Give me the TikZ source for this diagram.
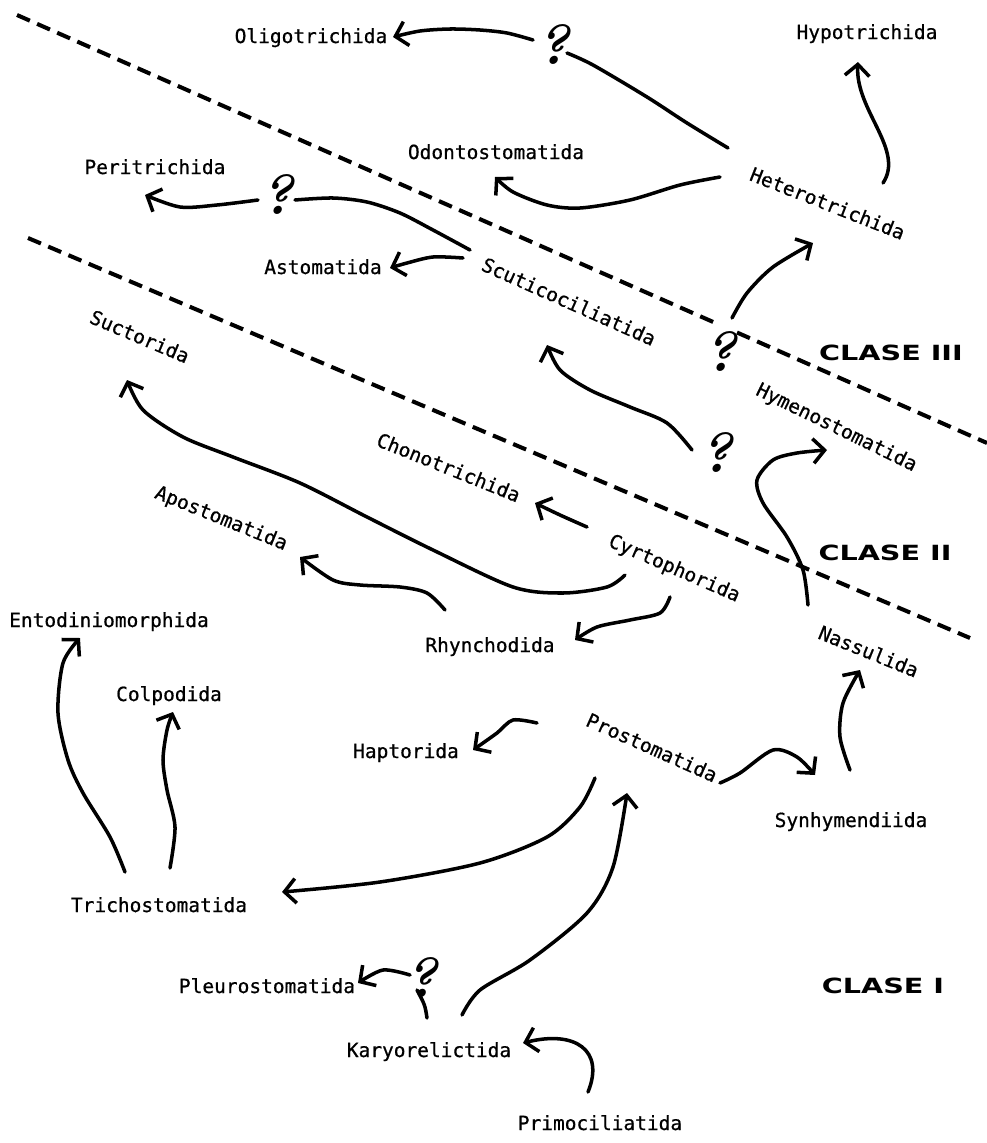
\documentclass[tikz,border=0pt]{standalone}
\usepackage{fontspec}
\setmonofont{DejaVu Sans Mono}[BoldFont=DejaVu Sans Mono, BoldFeatures={FakeBold=0.7}]
\newfontfamily\clasefont{DejaVu Sans}
\usetikzlibrary{arrows.meta}
\begin{document}
\begin{tikzpicture}[x=0.02cm,y=-0.02cm]
\tikzset{
 lbl/.style={font=\ttfamily\bfseries\fontsize{11.1}{13}\selectfont, inner sep=0pt, anchor=base},
 qm/.style={font=\fontsize{32}{32}\selectfont\bfseries\itshape, inner sep=0pt},
 cls/.style={font=\clasefont\bfseries\fontsize{11.9}{14}\selectfont, inner sep=0pt, anchor=base},
 arr/.style={line width=2pt, line cap=round, line join=round, -{Straight Barb[length=6.5pt,width=14pt]}},
 ln/.style={line width=2pt, line cap=round},
 sep/.style={line width=2.3pt, dash pattern=on 8pt off 4.5pt},
}
\useasboundingbox[fill=white] (0,0) rectangle (987,1143);

% separating lines
\coordinate (d1a) at (17,15); \coordinate (d1b) at (720,325);
\coordinate (d1c) at (737,332.5); \coordinate (d1d) at (987,443);
\coordinate (d2a) at (28,238); \coordinate (d2b) at (970,638);
\draw[sep] (d1a) -- (d1b);
\draw[sep] (d1c) -- (d1d);
\draw[sep] (d2a) -- (d2b);

% labels
\node[lbl] (olig) at (311,43) {Oligotrichida};
\node[lbl] (hypo) at (867,39) {Hypotrichida};
\node[lbl] (odon) at (496,159) {Odontostomatida};
\node[lbl] (peri) at (155,174) {Peritrichida};
\node[lbl] (asto) at (323,274) {Astomatida};
\node[lbl] (entod) at (109,627) {Entodiniomorphida};
\node[lbl] (colp) at (169,701) {Colpodida};
\node[lbl] (rhyn) at (490,652) {Rhynchodida};
\node[lbl] (hapt) at (406,758) {Haptorida};
\node[lbl] (syn) at (851,827) {Synhymendiida};
\node[lbl] (tricho) at (159,912) {Trichostomatida};
\node[lbl] (pleuro) at (267,993) {Pleurostomatida};
\node[lbl] (kary) at (429,1057) {Karyorelictida};
\node[lbl] (prim) at (600,1130) {Primociliatida};
\node[lbl,rotate=-21.5] (het) at (825,210) {Heterotrichida};
\node[lbl,rotate=-24] (scut) at (566,308) {Scuticociliatida};
\node[lbl,rotate=-23] (suct) at (137,343) {Suctorida};
\node[lbl,rotate=-26] (hymen) at (834,433) {Hymenostomatida};
\node[lbl,rotate=-22] (chono) at (446,474) {Chonotrichida};
\node[lbl,rotate=-22] (apost) at (219,524) {Apostomatida};
\node[lbl,rotate=-23.5] (cyrt) at (672,574) {Cyrtophorida};
\node[lbl,rotate=-22] (nass) at (866,658) {Nassulida};
\node[lbl,rotate=-24] (prost) at (649,754) {Prostomatida};

\node[cls] (c3) at (891,360) {\scalebox{1.37}[1]{CLASE III}};
\node[cls] (c2) at (885,560) {\scalebox{1.37}[1]{CLASE II}};
\node[cls] (c1) at (883,993) {\scalebox{1.37}[1]{CLASE I}};

\node[qm] (q1) at (553,45) {?};
\node[qm] (q2) at (277,195) {?};
\node[qm] (q3) at (720,352) {?};
\node[qm] (q4) at (716,453) {?};
\node[qm] (q5) at (421,977) {?};

% connector end points
\coordinate (het-q1) at (728,148); \coordinate (q1-in) at (567,53);
\coordinate (q1-out) at (533,40); \coordinate (olig-in) at (393,37);
\coordinate (het-odon) at (720,177); \coordinate (odon-in) at (495,177);
\coordinate (het-hypo) at (883,183); \coordinate (hypo-in) at (858,62);
\coordinate (q3-out) at (732,318); \coordinate (het-in) at (813,243);
\coordinate (scut-q2) at (470,250); \coordinate (q2-in) at (295,200);
\coordinate (q2-out) at (258,200); \coordinate (peri-in) at (145,195);
\coordinate (scut-asto) at (463,258); \coordinate (asto-in) at (390,268);
\coordinate (q4-out) at (692,450); \coordinate (scut-in) at (547,345);
\coordinate (cyrt-suct) at (625,575); \coordinate (suct-in) at (127,380);
\coordinate (cyrt-chono) at (587,527); \coordinate (chono-in) at (535,503);
\coordinate (cyrt-rhyn) at (670,597); \coordinate (rhyn-in) at (575,640);
\coordinate (rhyn-apost) at (445,610); \coordinate (apost-in) at (300,557);
\coordinate (nass-hymen) at (808,605); \coordinate (hymen-in) at (827,450);
\coordinate (syn-nass) at (850,770); \coordinate (nass-in) at (860,670);
\coordinate (prost-syn) at (720,783); \coordinate (syn-in) at (815,775);
\coordinate (prost-hapt) at (537,723); \coordinate (hapt-in) at (473,750);
\coordinate (prost-tricho) at (595,778); \coordinate (tricho-in) at (282,892);
\coordinate (kary-prost) at (462,1015); \coordinate (prost-in) at (627,793);
\coordinate (prim-kary) at (588,1092); \coordinate (kary-in) at (523,1043);
\coordinate (kary-q5) at (427,1018); \coordinate (q5-in) at (417,990);
\coordinate (q5-out) at (410,975); \coordinate (pleuro-in) at (358,983);
\coordinate (tricho-entod) at (125,872); \coordinate (entod-in) at (80,638);
\coordinate (tricho-colp) at (170,868); \coordinate (colp-in) at (173,712);

% connectors
\draw[ln] plot[smooth] coordinates {(het-q1) (687,123) (647,97) (593,65) (q1-in)};
\draw[arr] plot[smooth] coordinates {(q1-out) (507,33) (480,30) (450,29) (420,31) (olig-in)};
\draw[arr] plot[smooth] coordinates {(het-odon) (680,185) (630,200) (580,208) (547,205) (513,192) (odon-in)};
\draw[arr] (het-hypo) .. controls (905,150) and (855,110) .. (hypo-in);
\draw[arr] plot[smooth] coordinates {(q3-out) (747,293) (773,267) (het-in)};
\draw[ln] plot[smooth] coordinates {(scut-q2) (433,230) (400,213) (367,202) (333,198) (q2-in)};
\draw[arr] plot[smooth] coordinates {(q2-out) (217,205) (180,207) (peri-in)};
\draw[arr] plot[smooth] coordinates {(scut-asto) (433,257) (407,263) (asto-in)};
\draw[arr] plot[smooth] coordinates {(q4-out) (667,423) (630,407) (590,390) (560,370) (scut-in)};
\draw[arr] plot[smooth] coordinates {(cyrt-suct) (607,587) (563,593) (513,587) (433,550) (367,517) (300,483) (233,457) (183,437) (143,410) (suct-in)};
\draw[arr] plot[smooth] coordinates {(cyrt-chono) (560,515) (chono-in)};
\draw[arr] plot[smooth] coordinates {(cyrt-rhyn) (660,613) (630,620) (597,627) (rhyn-in)};
\draw[arr] plot[smooth] coordinates {(rhyn-apost) (427,593) (400,587) (360,585) (333,580) (apost-in)};
\draw[arr] plot[smooth] coordinates {(nass-hymen) (803,570) (787,537) (763,503) (757,480) (773,460) (797,453) (hymen-in)};
\draw[arr] plot[smooth] coordinates {(syn-nass) (840,737) (843,703) (nass-in)};
\draw[arr] plot[smooth] coordinates {(prost-syn) (740,773) (773,750) (797,757) (syn-in)};
\draw[arr] plot[smooth] coordinates {(prost-hapt) (513,720) (497,733) (hapt-in)};
\draw[arr] plot[smooth] coordinates {(prost-tricho) (580,807) (547,837) (480,863) (380,882) (tricho-in)};
\draw[arr] plot[smooth] coordinates {(kary-prost) (480,990) (530,960) (587,913) (613,867) (prost-in)};
\draw[arr] (prim-kary) .. controls (605,1050) and (575,1030) .. (kary-in);
\draw[ln] (kary-q5) .. controls (425,1005) .. (q5-in);
\draw[arr] plot[smooth] coordinates {(q5-out) (383,970) (pleuro-in)};
\draw[arr] plot[smooth] coordinates {(tricho-entod) (110,837) (83,793) (68,760) (58,713) (63,663) (entod-in)};
\draw[arr] plot[smooth] coordinates {(tricho-colp) (175,827) (167,790) (163,760) (167,730) (colp-in)};
\end{tikzpicture}
\end{document}
